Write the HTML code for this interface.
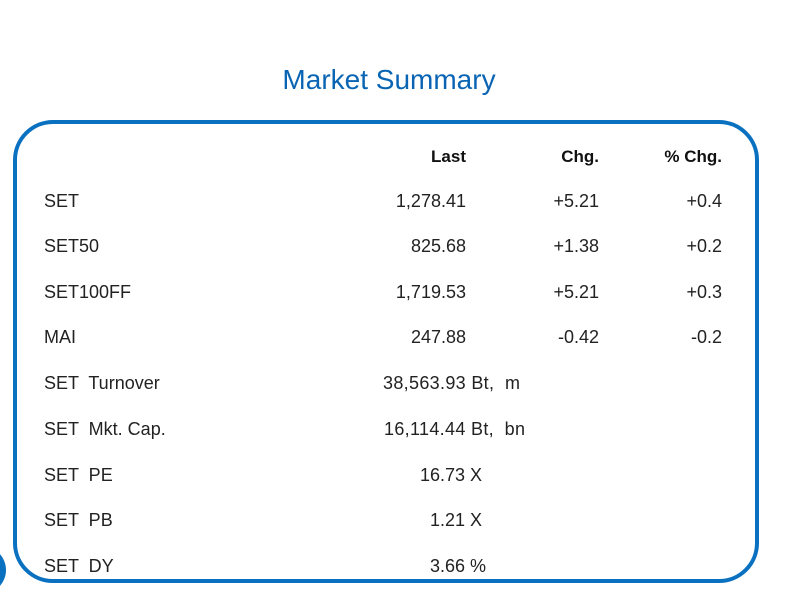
<!DOCTYPE html>
<html><head><meta charset="utf-8"><style>
html,body{margin:0;padding:0;background:#fff;}
svg{display:block;}
text{font-family:"Liberation Sans",sans-serif;font-size:18px;fill:#222;white-space:pre;}
.h{font-weight:bold;font-size:17px;fill:#111;}
</style></head><body>
<svg width="786" height="612" viewBox="0 0 786 612" xmlns="http://www.w3.org/2000/svg">
<rect width="786" height="612" fill="#fff"/>
<text x="389" y="89" text-anchor="middle" style="font-size:28px;fill:#0a64b4">Market Summary</text>
<circle cx="-18" cy="570" r="24" fill="#0a70c0"/>
<rect x="15" y="122" width="742" height="459" rx="38" ry="38" fill="none" stroke="#0a70c0" stroke-width="4"/>
<text class="h" x="466" y="162" text-anchor="end">Last</text>
<text class="h" x="599" y="162" text-anchor="end">Chg.</text>
<text class="h" x="722" y="162" text-anchor="end">% Chg.</text>

<text x="44" y="207">SET</text>
<text x="466" y="207" text-anchor="end">1,278.41</text>
<text x="599" y="207" text-anchor="end">+5.21</text>
<text x="722" y="207" text-anchor="end">+0.4</text>

<text x="44" y="252">SET50</text>
<text x="466" y="252" text-anchor="end">825.68</text>
<text x="599" y="252" text-anchor="end">+1.38</text>
<text x="722" y="252" text-anchor="end">+0.2</text>

<text x="44" y="298">SET100FF</text>
<text x="466" y="298" text-anchor="end">1,719.53</text>
<text x="599" y="298" text-anchor="end">+5.21</text>
<text x="722" y="298" text-anchor="end">+0.3</text>

<text x="44" y="343">MAI</text>
<text x="466" y="343" text-anchor="end">247.88</text>
<text x="599" y="343" text-anchor="end">-0.42</text>
<text x="722" y="343" text-anchor="end">-0.2</text>

<text x="44" y="389">SET  Turnover</text>
<text x="383" y="389" textLength="137">38,563.93 Bt,  m</text>

<text x="44" y="435">SET  Mkt. Cap.</text>
<text x="384" y="435" textLength="141">16,114.44 Bt,  bn</text>

<text x="44" y="481">SET  PE</text>
<text x="420" y="481">16.73 X</text>

<text x="44" y="526">SET  PB</text>
<text x="430" y="526">1.21 X</text>

<text x="44" y="572">SET  DY</text>
<text x="430" y="572">3.66 %</text>
</svg>
</body></html>
